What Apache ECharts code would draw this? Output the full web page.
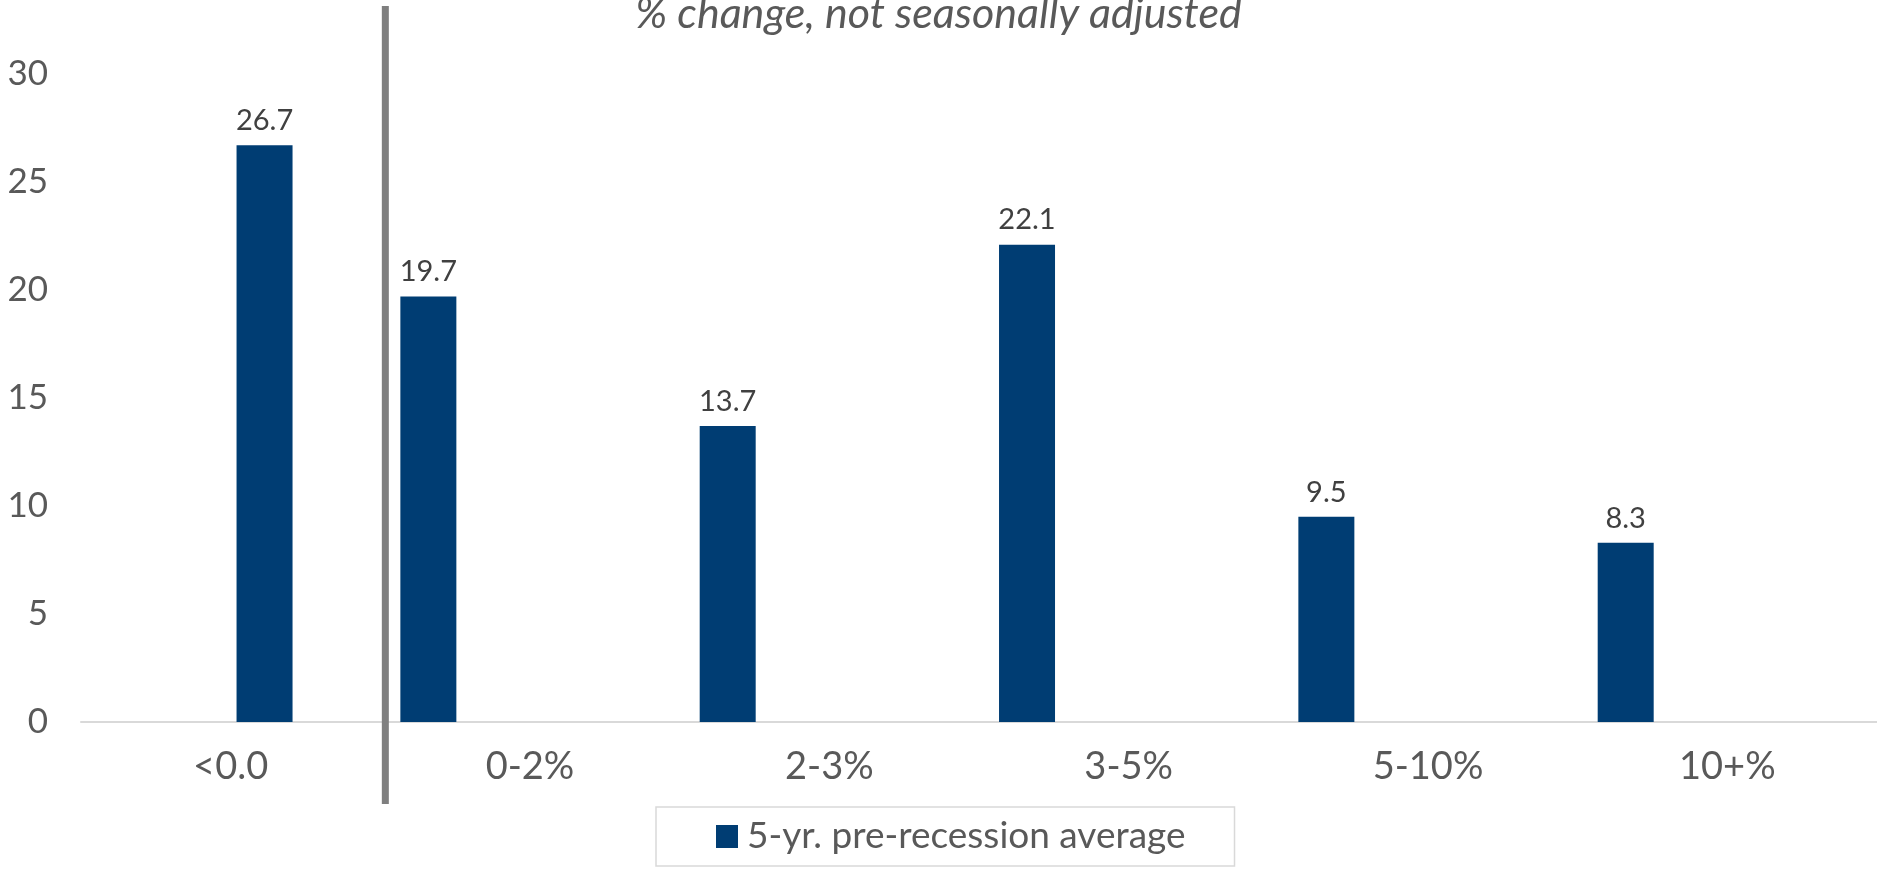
<!DOCTYPE html>
<html>
<head>
<meta charset="utf-8">
<script src="https://cdn.jsdelivr.net/npm/echarts@6/dist/echarts.min.js"></script>
<style>
  html, body { margin: 0; padding: 0; background: #fff; }
  #main { width: 1877px; height: 869px; }
</style>
</head>
<body>
<div id="main"></div>
<script>
var categories = ['<0.0', '0-2%', '2-3%', '3-5%', '5-10%', '10+%'];
var preRecession = [null, 19.7, 13.7, 22.1, 9.5, 8.3];
var belowZero = [26.7, null, null, null, null, null];
var emptySlot = [null, null, null, null, null, null];
var yTicks = { min: 0, max: 30, interval: 5 };

(function(){
    var myChart = echarts.init(document.getElementById('main'));
    var barColor = '#003d73';
    var labelCfg = {
        show: true,
        position: 'top',
        distance: 10,
        color: '#404040',
        fontSize: 29,
        fontFamily: 'Lato'
    };
    var option = {
        animation: false,
        title: {
            text: '% change, not seasonally adjusted',
            left: 'center',
            top: -12,
            textStyle: {
                color: '#595959',
                fontSize: 43,
                fontStyle: 'italic',
                fontWeight: 'normal',
                fontFamily: 'Lato'
            }
        },
        legend: {
            data: ['5-yr. pre-recession average'],
            left: 656,
            top: 807,
            padding: [11, 49, 11, 60],
            borderColor: '#d9d9d9',
            borderWidth: 1.5,
            icon: 'rect',
            itemWidth: 22,
            itemHeight: 23,
            textStyle: {
                color: '#595959',
                fontSize: 37,
                fontFamily: 'Lato',
                padding: [0, 0, 0, 4]
            }
        },
        grid: {
            left: 81,
            right: 0,
            top: 74,
            bottom: 147
        },
        xAxis: {
            type: 'category',
            data: categories,
            axisTick: { show: false },
            axisLine: { lineStyle: { color: '#d9d9d9', width: 2 } },
            axisLabel: {
                color: '#595959',
                fontSize: 38,
                fontFamily: 'Lato',
                margin: 26
            }
        },
        yAxis: {
            type: 'value',
            min: yTicks.min,
            max: yTicks.max,
            interval: yTicks.interval,
            splitLine: { show: false },
            axisLine: { show: false },
            axisTick: { show: false },
            axisLabel: {
                color: '#595959',
                fontSize: 35,
                fontFamily: 'Lato',
                margin: 33
            }
        },
        series: [
            {
                name: '5-yr. pre-recession average',
                type: 'bar',
                data: preRecession,
                barWidth: 56,
                barGap: '21%',
                itemStyle: { color: barColor },
                label: labelCfg
            },
            {
                name: 'slot2',
                type: 'bar',
                data: emptySlot,
                barWidth: 56,
                barGap: '21%'
            },
            {
                name: 'below zero',
                type: 'bar',
                data: belowZero,
                barWidth: 56,
                barGap: '21%',
                itemStyle: { color: barColor },
                label: labelCfg
            },
            {
                name: 'slot4',
                type: 'bar',
                data: emptySlot,
                barWidth: 56,
                barGap: '21%'
            }
        ]
    };
    myChart.setOption(option);

    // divider between the first and second category
    var p0 = myChart.convertToPixel({ xAxisIndex: 0 }, categories[0]);
    var p1 = myChart.convertToPixel({ xAxisIndex: 0 }, categories[1]);
    var xDiv = (p0 + p1) / 2 + 5;
    myChart.setOption({
        graphic: [{
            type: 'line',
            shape: { x1: xDiv, y1: 6, x2: xDiv, y2: 804 },
            style: { stroke: '#7f7f7f', lineWidth: 7 },
            z: 100
        }]
    });

    window.addEventListener('resize', function() {
        myChart.resize();
    });
})();
</script>
</body>
</html>
